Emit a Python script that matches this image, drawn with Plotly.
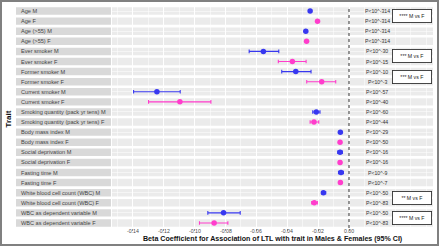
import plotly.graph_objects as go

# ---------------- data ----------------
traits = ["Age", "Age (>55)", "Ever smoker", "Former smoker", "Current smoker",
          "Smoking quantity (pack yr tens)", "Body mass index", "Social deprivation",
          "Fasting time", "White blood cell count (WBC)", "WBC as dependent variable"]

male_beta = [-0.0252, -0.0280, -0.0555, -0.0345, -0.1245, -0.0212, -0.0056, -0.0058, -0.0052, -0.0166, -0.0813]
male_lo   = [-0.0256, -0.0285, -0.0647, -0.0436, -0.1396, -0.0235, -0.0059, -0.0073, -0.0068, -0.0177, -0.0915]
male_hi   = [-0.0248, -0.0275, -0.0455, -0.0246, -0.1094, -0.0188, -0.0053, -0.0043, -0.0036, -0.0151, -0.0705]

female_beta = [-0.0204, -0.0275, -0.0367, -0.0177, -0.1096, -0.0227, -0.0058, -0.0058, -0.0056, -0.0225, -0.0874]
female_lo   = [-0.0208, -0.0279, -0.0458, -0.0274, -0.1299, -0.0252, -0.0061, -0.0066, -0.0064, -0.0242, -0.0969]
female_hi   = [-0.0200, -0.0271, -0.0278, -0.0086, -0.0895, -0.0196, -0.0055, -0.0050, -0.0048, -0.0205, -0.0785]

male_p   = ["P<10^-314", "P<10^-314", "P<10^-30", "P<10^-10", "P<10^-57", "P<10^-60",
            "P<10^-29", "P<10^-16", "P<10^-9", "P<10^-50", "P<10^-50"]
female_p = ["P<10^-314", "P<10^-314", "P<10^-15", "P<10^-3", "P<10^-40", "P<10^-44",
            "P<10^-50", "P<10^-16", "P<10^-7", "P<10^-83", "P<10^-83"]

comparison_traits = ["Age", "Ever smoker", "Former smoker", "White blood cell count (WBC)", "WBC as dependent variable"]
comparison_labels = ["**** M vs F", "*** M vs F", "*** M vs F", "** M vs F", "**** M vs F"]

x_ticks = [-0.14, -0.12, -0.10, -0.08, -0.06, -0.04, -0.02, 0.00]
x_tick_labels = ["-0.14", "-0.12", "-0.10", "-0.08", "-0.06", "-0.04", "-0.02", "0.00"]

x_title = "Beta Coefficient for Association of LTL with trait in Males & Females (95% CI)"
y_title = "Trait"

# ---------------- layout constants ----------------
W, H = 440, 247
ML, MR, MT, MB = 112, 7, 6, 19
PW, PH = W - ML - MR, H - MT - MB
FONT = "Liberation Sans, Arial, sans-serif"
BLUE = "#3838f0"
PINK = "#ff3dcc"
P_X = 0.0183
BOX_X = 0.0408


def px_x(px):
    return (px - ML) / PW


def px_y(py):
    return (H - MB - py) / PH


male_cat = [t + " M" for t in traits]
female_cat = [t + " F" for t in traits]
categories = []
for m, f in zip(male_cat, female_cat):
    categories += [m, f]

fig = go.Figure()

for cats, beta, lo, hi, col in [(male_cat, male_beta, male_lo, male_hi, BLUE),
                                 (female_cat, female_beta, female_lo, female_hi, PINK)]:
    fig.add_trace(go.Scatter(
        x=beta, y=cats, mode="markers",
        marker=dict(color=col, size=5.5, line=dict(width=0)),
        error_x=dict(type="data", symmetric=False,
                     array=[h - b for h, b in zip(hi, beta)],
                     arrayminus=[b - l for b, l in zip(beta, lo)],
                     color=col, thickness=1.1, width=1.8),
        showlegend=False, hoverinfo="skip"))

shapes = []
annotations = []
for i, cat in enumerate(categories):
    # panel row
    shapes.append(dict(type="rect", xref="paper", yref="y", x0=0, x1=1,
                       y0=i - 0.37, y1=i + 0.37, fillcolor="#ebebeb",
                       line=dict(width=0), layer="below"))
    # strip
    shapes.append(dict(type="rect", xref="paper", yref="y", x0=px_x(16), x1=px_x(111),
                       y0=i - 0.37, y1=i + 0.37, fillcolor="#d9d9d9",
                       line=dict(width=0), layer="below"))
    annotations.append(dict(xref="paper", yref="y", x=px_x(18.5), y=i, text=cat,
                            xanchor="left", yanchor="middle", showarrow=False,
                            font=dict(family=FONT, size=5.6, color="#444444")))

# p-values
for cats, ps in [(male_cat, male_p), (female_cat, female_p)]:
    for c, p in zip(cats, ps):
        annotations.append(dict(xref="x", yref="y", x=P_X, y=categories.index(c), text=p,
                                xanchor="center", yanchor="middle", showarrow=False,
                                font=dict(family=FONT, size=5.2, color="#333333")))

# comparison boxes
for t, lab in zip(comparison_traits, comparison_labels):
    yi = categories.index(t + " M") + 0.5
    annotations.append(dict(xref="x", yref="y", x=BOX_X, y=yi, text=lab,
                            xanchor="center", yanchor="middle", showarrow=False,
                            width=36, height=10, borderpad=1,
                            bordercolor="#333333", borderwidth=0.9, bgcolor="white",
                            font=dict(family=FONT, size=5.2, color="#222222")))

# x tick labels (placed on the x scale)
for v, lab in zip(x_ticks, x_tick_labels):
    annotations.append(dict(xref="x", yref="paper", x=v, y=px_y(231), text=lab,
                            xanchor="center", yanchor="middle", showarrow=False,
                            font=dict(family=FONT, size=5.2, color="#4d4d4d")))

# zero reference line
shapes.append(dict(type="line", xref="x", yref="paper", x0=0, x1=0, y0=0, y1=1,
                   line=dict(color="#333333", width=1, dash="dot"), layer="above"))

# outer frame
shapes.append(dict(type="rect", xref="paper", yref="paper",
                   x0=px_x(1), x1=px_x(438), y0=px_y(245), y1=px_y(1),
                   line=dict(color="#808080", width=2), fillcolor="rgba(0,0,0,0)"))

# axis titles
annotations.append(dict(xref="paper", yref="paper", x=0.5, y=px_y(238.5),
                        text="<b>" + x_title + "</b>", showarrow=False,
                        xanchor="center", yanchor="middle",
                        font=dict(family=FONT, size=7.1, color="#111111")))
annotations.append(dict(xref="paper", yref="paper", x=px_x(7.5), y=px_y(119),
                        text="<b>" + y_title + "</b>", showarrow=False, textangle=-90,
                        xanchor="center", yanchor="middle",
                        font=dict(family=FONT, size=8, color="#111111")))

fig.update_layout(
    width=W, height=H,
    margin=dict(l=ML, r=MR, t=MT, b=MB, pad=0),
    paper_bgcolor="white", plot_bgcolor="white",
    showlegend=False,
    shapes=shapes, annotations=annotations,
    xaxis=dict(range=[(ML - 349) / 1543, (W - MR - 349) / 1543],
               tickvals=x_ticks, showticklabels=False,
               ticks="outside", ticklen=1.5, tickwidth=0.6, tickcolor="#555555",
               showgrid=True, gridcolor="white", gridwidth=1,
               minor=dict(dtick=0.01, tick0=0, showgrid=True, gridcolor="white", gridwidth=0.5),
               zeroline=False, showline=False, fixedrange=True),
    yaxis=dict(type="category", categoryorder="array", categoryarray=categories,
               range=[len(categories) - 0.5, -0.5],
               showticklabels=False, ticks="",
               showgrid=True, gridcolor="white", gridwidth=0.5,
               zeroline=False, showline=False, fixedrange=True),
)

fig.write_html("out.html", config={"displayModeBar": False, "staticPlot": True},
               post_script="document.body.style.margin='0px';document.body.style.overflow='hidden';")
